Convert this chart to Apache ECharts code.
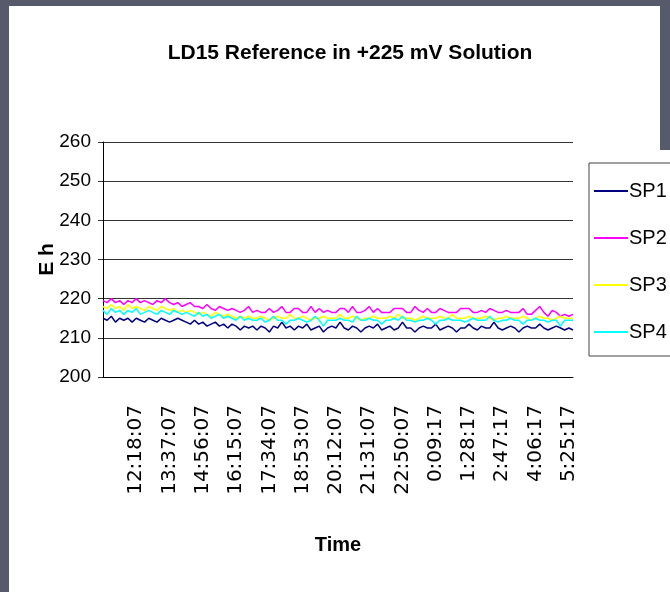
<!DOCTYPE html>
<html>
<head>
<meta charset="utf-8">
<script src="https://cdn.jsdelivr.net/npm/echarts@6/dist/echarts.min.js"></script>
<style>
  html, body { margin: 0; padding: 0; width: 670px; height: 592px; overflow: hidden; background: #575a6b; }
  #paper { position: absolute; left: 9px; top: 6px; width: 651px; height: 600px; background: #fff; }
  #paper2 { position: absolute; left: 600px; top: 150px; width: 70px; height: 450px; background: #fff; }
  #chart { position: absolute; left: 0; top: 0; width: 670px; height: 592px; }
</style>
</head>
<body>
<div id="paper"></div>
<div id="paper2"></div>
<div id="chart"></div>
<script>
const titleText = 'LD15 Reference in +225 mV Solution';
const xAxisName = 'Time';
const yAxisName = 'E h';
const seriesNames = ['SP1', 'SP2', 'SP3', 'SP4'];
const seriesColors = ['#000080', '#ff00ff', '#ffff00', '#00ffff'];
const tickLabels = ['12:18:07', '13:37:07', '14:56:07', '16:15:07', '17:34:07', '18:53:07', '20:12:07',
  '21:31:07', '22:50:07', '0:09:17', '1:28:17', '2:47:17', '4:06:17', '5:25:17'];
const yMin = 200, yMax = 260, yStep = 10;

const sp1 = [215, 214.5, 215.5, 214, 215, 214.5, 215, 214, 215, 214.5, 214, 215, 214.5, 214, 215, 214.5, 214, 214.5, 215, 214.5,
  214, 213.5, 214.5, 213.5, 214, 213, 213.5, 214, 213, 213.5, 212.5, 213.5, 213, 212, 213, 212.5,
  213, 212, 213, 212.5, 211.5, 213, 212.5, 214, 212.5, 213,
  212, 213, 212.5, 213.5, 212, 212.5, 213, 211.5, 212.5, 213,
  212.5, 214, 212.5, 212, 213, 212.5, 211.5, 212.5, 213, 212.5,
  213.5, 212, 212.5, 213, 212, 212.5, 214, 212.5, 212.5, 211.5,
  212.5, 213, 212.5, 212.5, 213.5, 212, 212.5, 213, 212.5, 211.5,
  212.5, 212.5, 213.5, 212.5, 212, 213, 212.5, 212.5, 214, 212.5,
  212, 212.5, 213, 212.5, 211.5, 212.5, 213, 212.5, 212.5, 213.5,
  212.5, 212, 212.5, 213, 212.5, 212, 212.5, 212];
const sp2 = [219.5, 219, 220, 219, 219.5, 218.5, 219.5, 219, 220, 219, 219.5, 219, 218.5, 219.5, 219, 220, 219, 218.5, 219, 218,
  218.5, 219, 218, 218, 217.5, 218.5, 217.5, 217, 218, 217.5, 217, 217.5, 217, 216.5, 217, 218,
  216.5, 217, 216.5, 216.5, 217.5, 216.5, 217, 218, 216.5, 216.5,
  217.5, 217.5, 216.5, 216.5, 218, 216.5, 217.5, 216.5, 217, 216.5,
  216.5, 217.5, 217.5, 216.5, 218, 216.5, 216.5, 217, 218, 216.5,
  217.5, 216.5, 216.5, 216.5, 217.5, 217.5, 217.5, 216.5, 216.5, 218,
  217, 216.5, 217.5, 216.5, 216.5, 217.5, 217, 216.5, 216.5, 216.5,
  217.5, 217.5, 217.5, 216.5, 216.5, 217, 216.5, 217.5, 217, 216.5,
  216.5, 217, 216.5, 216.5, 216.5, 217.5, 216, 216, 217, 218,
  216.5, 215.5, 217, 216.5, 215.5, 216, 215.5, 216];
const sp3 = [218, 217.5, 218.5, 217.5, 218, 217, 218.5, 217.5, 218, 217.5, 217, 218, 217.5, 217, 218, 217.5, 217, 217.5, 216.5, 217,
  216.5, 217, 216.5, 216, 216.5, 216, 215.5, 216.5, 216, 215.5, 216, 215.5, 215, 215.5, 215, 215.5,
  215, 215, 215.5, 215, 214.5, 215, 215.5, 215, 215, 216,
  215, 215, 215.5, 215, 214.5, 215, 215, 215.5, 215, 215,
  215, 216, 215, 215, 215.5, 215, 214.5, 215, 215, 215.5,
  215, 215, 215, 215.5, 215, 216, 215, 215, 215, 214.5,
  215, 215.5, 215, 215, 215, 215.5, 215, 215, 216, 215,
  215, 215, 215.5, 215, 215, 215, 215.5, 215, 214.5, 215,
  215, 215.5, 215, 215, 215, 215.5, 215, 214.5, 215, 215.5,
  215, 215, 214.5, 215, 215.5, 215, 215, 215];
const sp4 = [217, 216, 217.5, 216.5, 217, 216, 217, 216.5, 217.5, 216, 216.5, 217, 216.5, 216, 217, 216.5, 216, 217, 216.5, 216,
  216.5, 216, 215.5, 216.5, 215.5, 216, 215, 215.5, 216, 215, 215.5, 215, 214.5, 215.5, 214.5, 215,
  214.5, 214.5, 215, 214, 214.5, 215.5, 214.5, 214.5, 213.5, 214.5,
  214.5, 215, 214.5, 214, 214.5, 215.5, 214.5, 213, 214.5, 214.5,
  214.5, 215, 214.5, 214.5, 214, 215.5, 214.5, 214.5, 215, 214.5,
  214.5, 213.5, 214.5, 214.5, 215, 214.5, 215.5, 214.5, 214.5, 214,
  214.5, 214.5, 215, 214.5, 213.5, 214.5, 214.5, 215, 214.5, 214.5,
  214.5, 214, 214.5, 215, 214.5, 214.5, 214.5, 215.5, 214.5, 214,
  214.5, 214.5, 215, 214.5, 214.5, 213.5, 214.5, 214.5, 215, 214.5,
  214.5, 214, 214.5, 214.5, 213, 214.5, 214.5, 214.5];
const seriesValues = [sp1, sp2, sp3, sp4];

// category axis: samples between the labelled times (8 samples per label step)
const perStep = 8, firstLabelIdx = 8;
function toSec(t) { const p = t.split(':').map(Number); return p[0] * 3600 + p[1] * 60 + p[2]; }
function fmt(s) { s = ((Math.round(s) % 86400) + 86400) % 86400; const h = Math.floor(s / 3600), m = Math.floor(s % 3600 / 60), c = s % 60;
  return h + ':' + String(m).padStart(2, '0') + ':' + String(c).padStart(2, '0'); }
const labSec = []; let add = 0;
tickLabels.forEach((t, k) => { let s = toSec(t) + add; if (k && s < labSec[k - 1]) { add += 86400; s += 86400; } labSec.push(s); });
const categories = [];
for (let i = 0; i < sp1.length; i++) {
  const f = (i - firstLabelIdx) / perStep;
  let k = Math.max(0, Math.min(tickLabels.length - 2, Math.floor(f)));
  const s = labSec[k] + (f - k) * (labSec[k + 1] - labSec[k]);
  const isLab = i >= firstLabelIdx && (i - firstLabelIdx) % perStep === 0 && (i - firstLabelIdx) / perStep < tickLabels.length;
  categories.push(isLab ? tickLabels[(i - firstLabelIdx) / perStep] : fmt(s));
}

const SANS = "'Liberation Sans', Arial, sans-serif";
const chart = echarts.init(document.getElementById('chart'), null, { renderer: 'canvas' });
chart.setOption({
  animation: false,
  backgroundColor: 'transparent',
  title: {
    text: titleText, left: 345, top: 38, textAlign: 'center',
    textStyle: { fontFamily: SANS, fontWeight: 'bold', fontSize: 21, color: '#000' }
  },
  grid: { left: 103, top: 142, width: 470, height: 235, containLabel: false },
  legend: {
    orient: 'vertical', left: 589, top: 163, icon: 'rect',
    padding: [16, 14, 12, 5], itemGap: 23, itemWidth: 34, itemHeight: 2,
    backgroundColor: '#fff', borderColor: '#444', borderWidth: 1, borderRadius: 0,
    textStyle: { fontFamily: SANS, fontSize: 20, color: '#000', lineHeight: 24, padding: [0, 0, 0, -4] },
    data: seriesNames
  },
  xAxis: {
    type: 'category', data: categories, boundaryGap: false,
    name: xAxisName, nameLocation: 'middle', nameGap: 158, nameMoveOverlap: false,
    nameTextStyle: { fontFamily: SANS, fontWeight: 'bold', fontSize: 20, color: '#000' },
    axisLine: { lineStyle: { color: '#000', width: 1 } },
    axisTick: { show: false },
    axisLabel: {
      rotate: 90, margin: 28, color: '#000', fontFamily: "'DejaVu Sans', sans-serif", fontSize: 20,
      interval: (idx) => idx >= firstLabelIdx && (idx - firstLabelIdx) % perStep === 0
    },
    splitLine: { show: false }
  },
  yAxis: {
    type: 'value', min: yMin, max: yMax, interval: yStep,
    name: yAxisName, nameLocation: 'middle', nameGap: 45, nameRotate: 90, nameMoveOverlap: false,
    nameTextStyle: { fontFamily: SANS, fontWeight: 'bold', fontSize: 21, color: '#000' },
    axisLine: { show: true, lineStyle: { color: '#000', width: 1 } },
    axisTick: { show: true, length: 5, lineStyle: { color: '#333' } },
    axisLabel: { margin: 12, color: '#000', fontFamily: SANS, fontSize: 19 },
    splitLine: { show: true, lineStyle: { color: '#333', width: 1 } }
  },
  series: seriesNames.map((n, k) => ({
    name: n, type: 'line', data: seriesValues[k], symbol: 'none', showSymbol: false,
    lineStyle: { color: seriesColors[k], width: 1.5 }, itemStyle: { color: seriesColors[k] }, z: 2 + k
  }))
});
</script>
</body>
</html>
